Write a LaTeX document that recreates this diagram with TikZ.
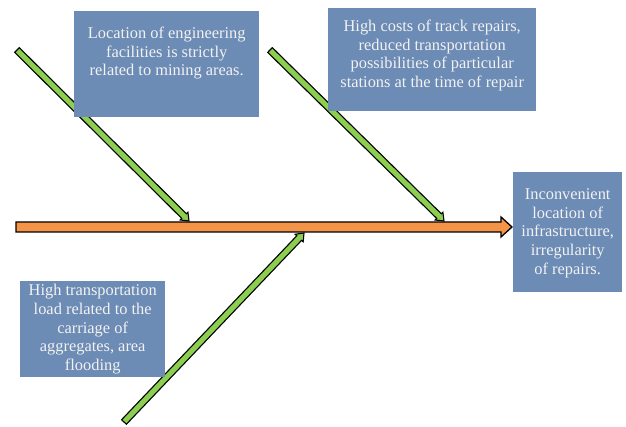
\documentclass[tikz,border=0pt]{standalone}
\usepackage{fontspec}
\setmainfont{Liberation Serif}
\usetikzlibrary{calc}
\definecolor{boxblue}{RGB}{108,139,181}
\definecolor{arrorange}{RGB}{244,148,72}
\definecolor{arrgreen}{RGB}{140,206,80}
\definecolor{txtwhite}{RGB}{242,242,242}
\newcommand{\blockarrow}[6]{%
  \coordinate (bh) at ($(#3)!#6!(#2)$);
  \draw[#1] ($(#2)!#4!90:(#3)$) -- ($(bh)!#4!-90:(#2)$) -- ($(bh)!#5!-90:(#2)$) -- (#3)
    -- ($(bh)!#5!90:(#2)$) -- ($(bh)!#4!90:(#2)$) -- ($(#2)!#4!-90:(#3)$) -- cycle;}
\tikzset{
  orangearrow/.style={fill=arrorange, draw=black, line width=1.3pt, line join=miter},
  greenarrow/.style={fill=arrgreen, draw=black, line width=1.1pt, line join=miter},
  bluebox/.style={rectangle, fill=boxblue, draw=none, inner sep=0pt},
  boxtext/.style={text=txtwhite, align=center, inner sep=0pt,
    font=\fontsize{16.4}{18.6}\selectfont},
}
\begin{document}
\begin{tikzpicture}[x=1pt,y=-1pt]
\useasboundingbox (0,0) rectangle (626,427);
% spine
\coordinate (os) at (16,227);
\coordinate (oe) at (512,227);
\blockarrow{orangearrow}{os}{oe}{5pt}{10pt}{11pt}
% bones
\coordinate (g1s) at (17,50);
\coordinate (g1e) at (189,221);
\coordinate (g2s) at (270,50);
\coordinate (g2e) at (444,221);
\coordinate (g3s) at (124,422);
\coordinate (g3e) at (304,233);
\blockarrow{greenarrow}{g1s}{g1e}{3.3pt}{5.5pt}{7pt}
\blockarrow{greenarrow}{g2s}{g2e}{3.3pt}{5.5pt}{7pt}
\blockarrow{greenarrow}{g3s}{g3e}{3.3pt}{5.5pt}{7pt}
% boxes
\node[bluebox, anchor=north west, minimum width=185pt, minimum height=106pt] (b1) at (74,11) {};
\node[boxtext, anchor=north] (t1) at ($(b1.north)+(0,16)$) {Location of engineering\\facilities is strictly\\related to mining areas.};
\node[bluebox, anchor=north west, minimum width=208pt, minimum height=103pt] (b2) at (328,8) {};
\node[boxtext, anchor=north] (t2) at ($(b2.north)+(0,12)$) {High costs of track repairs,\\reduced transportation\\possibilities of particular\\stations at the time of repair};
\node[bluebox, anchor=north west, minimum width=109pt, minimum height=120pt] (b3) at (513,172) {};
\node[boxtext] (t3) at ($(b3.center)+(0,1)$) {Inconvenient\\location of\\infrastructure,\\irregularity\\of repairs.};
\node[bluebox, anchor=north west, minimum width=145pt, minimum height=96pt] (b4) at (20,281) {};
\node[boxtext] (t4) at (b4.center) {High transportation\\load related to the\\carriage of\\aggregates, area\\flooding};
\end{tikzpicture}
\end{document}
